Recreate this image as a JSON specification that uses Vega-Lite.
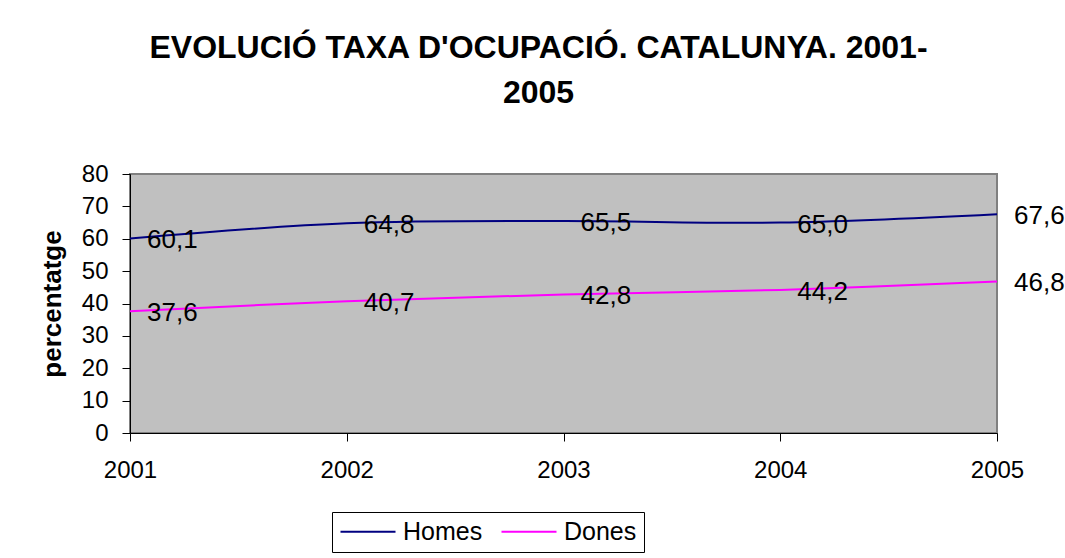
{
  "$schema": "https://vega.github.io/schema/vega-lite/v6.json",
  "width": 867,
  "height": 259,
  "autosize": {"type": "none"},
  "padding": {"left": 130, "top": 174, "right": 68, "bottom": 125},
  "background": "white",
  "title": {
    "text": ["EVOLUCIÓ TAXA D'OCUPACIÓ. CATALUNYA. 2001-", "2005"],
    "font": "Liberation Sans",
    "fontSize": 32,
    "fontWeight": "bold",
    "color": "black",
    "lineHeight": 45,
    "anchor": "middle",
    "dx": -25,
    "offset": 52
  },
  "data": {
    "values": [
      {"year": 2001, "serie": "Homes", "value": 60.1, "label": "60,1"},
      {"year": 2002, "serie": "Homes", "value": 64.8, "label": "64,8"},
      {"year": 2003, "serie": "Homes", "value": 65.5, "label": "65,5"},
      {"year": 2004, "serie": "Homes", "value": 65.0, "label": "65,0"},
      {"year": 2005, "serie": "Homes", "value": 67.6, "label": "67,6"},
      {"year": 2001, "serie": "Dones", "value": 37.6, "label": "37,6"},
      {"year": 2002, "serie": "Dones", "value": 40.7, "label": "40,7"},
      {"year": 2003, "serie": "Dones", "value": 42.8, "label": "42,8"},
      {"year": 2004, "serie": "Dones", "value": 44.2, "label": "44,2"},
      {"year": 2005, "serie": "Dones", "value": 46.8, "label": "46,8"}
    ]
  },
  "encoding": {
    "x": {
      "field": "year",
      "type": "quantitative",
      "scale": {"domain": [2001, 2005], "nice": false, "zero": false},
      "axis": {
        "title": null,
        "values": [2001, 2002, 2003, 2004, 2005],
        "format": "d",
        "grid": false,
        "domainColor": "black",
        "tickColor": "black",
        "tickSize": 8,
        "labelPadding": 17,
        "labelFont": "Liberation Sans",
        "labelFontSize": 24,
        "labelColor": "black",
        "labelFlush": false
      }
    },
    "y": {
      "field": "value",
      "type": "quantitative",
      "scale": {"domain": [0, 80], "nice": false},
      "axis": {
        "title": "percentatge",
        "titleFont": "Liberation Sans",
        "titleFontSize": 26,
        "titleFontWeight": "bold",
        "titleColor": "black",
        "titlePadding": 16,
        "values": [0, 10, 20, 30, 40, 50, 60, 70, 80],
        "grid": false,
        "domainColor": "black",
        "tickColor": "black",
        "tickSize": 8,
        "labelPadding": 14,
        "labelFont": "Liberation Sans",
        "labelFontSize": 24,
        "labelColor": "black"
      }
    }
  },
  "layer": [
    {
      "mark": {"type": "line", "interpolate": "catmull-rom", "strokeWidth": 2},
      "encoding": {
        "color": {
          "field": "serie",
          "type": "nominal",
          "scale": {"domain": ["Homes", "Dones"], "range": ["#000080", "#FF00FF"]},
          "legend": {
            "title": null,
            "orient": "none",
            "legendX": 202,
            "legendY": 338,
            "direction": "horizontal",
            "strokeColor": "black",
            "fillColor": "white",
            "padding": 7,
            "symbolType": "M-1,0H4",
            "symbolSize": 484,
            "symbolStrokeWidth": 2,
            "labelFont": "Liberation Sans",
            "labelFontSize": 25,
            "labelColor": "black",
            "labelOffset": 39,
            "columnPadding": 14
          }
        }
      }
    },
    {
      "mark": {
        "type": "text",
        "align": "left",
        "baseline": "middle",
        "dx": 17,
        "dy": 2,
        "font": "Liberation Sans",
        "fontSize": 26,
        "color": "black"
      },
      "encoding": {"text": {"field": "label"}}
    }
  ],
  "config": {
    "view": {"fill": "#C0C0C0", "stroke": "#808080", "strokeWidth": 2}
  }
}
